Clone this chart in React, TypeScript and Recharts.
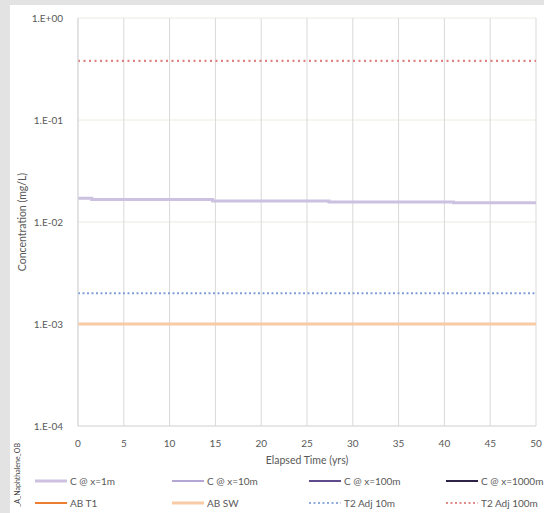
import { LineChart, Line, XAxis, YAxis, CartesianGrid } from "recharts";

const years = [0, 5, 10, 15, 20, 25, 30, 35, 40, 45, 50];
const decades = [0.0001, 0.001, 0.01, 0.1, 1];

// C @ x=1m steps down slowly over time
const stepYears = [0, 1.5, 14.7, 27.4, 41, 50];
const c1m = [0.0171, 0.0166, 0.0161, 0.0157, 0.0154, 0.0154];

const span = [0, 50];
const abT1 = [0.001, 0.001];
const abSW = [0.001, 0.001];
const t2Adj10 = [0.002, 0.002];
const t2Adj100 = [0.38, 0.38];

const toRows = (xs: number[], ys: number[]) => xs.map((x, i) => ({ t: x, v: ys[i] }));

const legendItems = [
  { name: "C @ x=1m", color: "#ccc1e0", width: 3, dash: undefined },
  { name: "C @ x=10m", color: "#b4a7d6", width: 2, dash: undefined },
  { name: "C @ x=100m", color: "#5f4b8b", width: 2, dash: undefined },
  { name: "C @ x=1000m", color: "#2e2346", width: 2, dash: undefined },
  { name: "AB T1", color: "#ed7d31", width: 2, dash: undefined },
  { name: "AB SW", color: "#f8cba4", width: 3, dash: undefined },
  { name: "T2 Adj 10m", color: "#8faadc", width: 2, dash: "2 2.5" },
  { name: "T2 Adj 100m", color: "#e08a8a", width: 2, dash: "2 2.5" },
];

const font = "Lato, 'Open Sans', sans-serif";
const fmt = (v: number) => {
  const e = Math.round(Math.log10(v));
  return "1.E" + (e < 0 ? "-" : "+") + String(Math.abs(e)).padStart(2, "0");
};

export default function App() {
  return (
    <div style={{ position: "fixed", left: 0, top: 0, width: 544, height: 513, background: "#e3e3e3", fontFamily: font }}>
      <div style={{ position: "absolute", left: 10, top: 5, right: 0, bottom: 0, background: "#fff" }} />
      <div style={{ position: "absolute", left: 0, top: 0 }}>
        <LineChart width={544} height={513} margin={{ top: 18, right: 8, left: 10, bottom: 47 }}>
          <CartesianGrid horizontal={true} vertical={false} stroke="#ecece2" />
          <CartesianGrid horizontal={false} vertical={true} stroke="#d9d9d9" />
          <XAxis
            dataKey="t"
            type="number"
            domain={[0, 50]}
            ticks={years}
            tickLine={false}
            axisLine={{ stroke: "#d9d9d9" }}
            tickMargin={8}
            tick={{ fill: "#595959", fontSize: 10, fontFamily: font }}
            height={40}
            label={{ value: "Elapsed Time (yrs)", position: "insideBottom", offset: 2, fill: "#595959", fontSize: 10.5, fontFamily: font }}
          />
          <YAxis
            scale="log"
            domain={[0.0001, 1]}
            ticks={decades}
            allowDataOverflow
            tickFormatter={fmt}
            tickLine={false}
            axisLine={{ stroke: "#d9d9d9" }}
            tickMargin={9}
            width={68}
            tick={{ fill: "#595959", fontSize: 10, fontFamily: font }}
            label={{ value: "Concentration (mg/L)", angle: -90, position: "insideLeft", offset: 12, fill: "#595959", fontSize: 10.5, fontFamily: font, style: { textAnchor: "middle" } }}
          />
          <Line data={toRows(span, abT1)} dataKey="v" stroke="#ed7d31" strokeWidth={1.5} dot={false} isAnimationActive={false} />
          <Line data={toRows(span, abSW)} dataKey="v" stroke="#f8cba4" strokeWidth={3} dot={false} isAnimationActive={false} />
          <Line data={toRows(stepYears, c1m)} dataKey="v" type="stepAfter" stroke="#ccc1e0" strokeWidth={3} dot={false} isAnimationActive={false} />
          <Line data={toRows(span, t2Adj10)} dataKey="v" stroke="#7f9fd6" strokeWidth={2} strokeDasharray="2 2.5" dot={false} isAnimationActive={false} />
          <Line data={toRows(span, t2Adj100)} dataKey="v" stroke="#e08080" strokeWidth={2.2} strokeDasharray="2 3.5" dot={false} isAnimationActive={false} />
        </LineChart>
      </div>
      <div
        style={{
          position: "absolute",
          left: 17,
          top: 475,
          transform: "translate(-50%, -50%) rotate(-90deg)",
          fontSize: 7,
          color: "#404040",
          whiteSpace: "nowrap",
        }}
      >
        _A_Naphthalene_OB
      </div>
      {legendItems.map((it, i) => {
        const col = i % 4;
        const row = Math.floor(i / 4);
        return (
          <div
            key={it.name}
            style={{
              position: "absolute",
              left: 35 + col * 137,
              top: 474 + row * 22,
              height: 14,
              display: "flex",
              alignItems: "center",
              fontSize: 10,
              color: "#595959",
              whiteSpace: "nowrap",
            }}
          >
            <svg width={32} height={6} style={{ marginRight: 3 }}>
              <line x1={0} y1={3} x2={32} y2={3} stroke={it.color} strokeWidth={it.width} strokeDasharray={it.dash} />
            </svg>
            {it.name}
          </div>
        );
      })}
    </div>
  );
}
